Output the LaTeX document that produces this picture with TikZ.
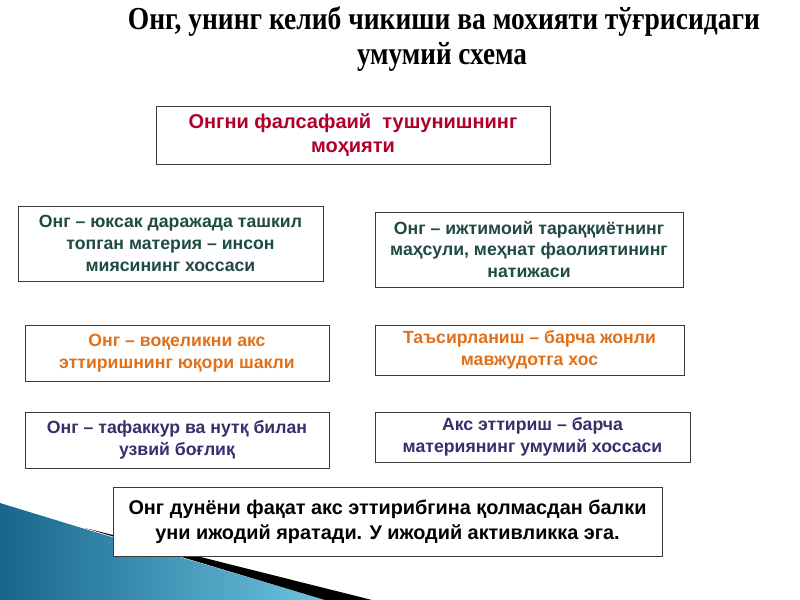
\documentclass[tikz,border=0pt]{standalone}
\usepackage{fontspec}
\usepackage{graphicx}
\setmainfont{Liberation Serif}
\setsansfont{Liberation Sans}
\usetikzlibrary{shapes,positioning}
\definecolor{onred}{HTML}{B0002A}
\definecolor{onteal}{HTML}{1F4A45}
\definecolor{onorange}{HTML}{E0701A}
\definecolor{onpurple}{HTML}{3B2C6E}
\definecolor{framegray}{HTML}{3A3A3A}
\definecolor{seadeep}{HTML}{17668C}
\definecolor{sealight}{HTML}{6CC4DF}
\tikzstyle{block} = [draw=framegray, line width=0.75pt, fill=white,
    rectangle, align=center, inner sep=0pt,
    font=\sffamily\bfseries\fontsize{13.25}{16.25}\selectfont]
\tikzstyle{title} = [align=center, inner sep=0pt,
    font=\rmfamily\bfseries\fontsize{24}{26}\selectfont]

\begin{document}
\begin{tikzpicture}[x=0.75pt,y=-0.75pt]
    \useasboundingbox (0,0) rectangle (800,600);
    % The slide corner goes in first, the blocks lie over it
    \shade [left color=seadeep, right color=sealight]
        (0,503) -- (85,529) -- (325,600) -- (0,600) -- cycle;
    \fill [black] (85,528) -- (372,600) -- (325,600) -- cycle;

    % Heading in two lines
    \node [title] (head) at (444,21)
        {\resizebox{474pt}{\height}{Онг, унинг келиб чикиши ва мохияти тўғрисидаги}};
    \node [title] (headb) at (442,57)
        {\resizebox{127.5pt}{\height}{умумий схема}};

    % We place the blocks
    \node [block, minimum width=295.5pt, minimum height=43.5pt, text=onred,
        font=\sffamily\bfseries\fontsize{15}{18}\selectfont] (essence) at (353,135)
        {Онгни фалсафаий\ \ тушунишнинг\\ моҳияти};
    \node [block, minimum width=228.75pt, minimum height=56.25pt, text=onteal]
        (matter) at (170.5,243.5)
        {Онг – юксак даражада ташкил\\ топган материя – инсон\\ миясининг хоссаси};
    \node [block, minimum width=231pt, minimum height=56.25pt, text=onteal]
        (social) at (529,249.5)
        {Онг – ижтимоий тараққиётнинг\\ маҳсули, меҳнат фаолиятининг\\ натижаси};
    \node [block, minimum width=228pt, minimum height=42pt, text=onorange]
        (reflect) at (177,353)
        {Онг – воқеликни акс\\ эттиришнинг юқори шакли};
    \node [block, minimum width=231.75pt, minimum height=37.5pt, text=onorange]
        (interact) at (529.5,350)
        {Таъсирланиш – барча жонли\\ мавжудотга хос};
    \node [block, minimum width=228pt, minimum height=42pt, text=onpurple]
        (thought) at (177,440)
        {Онг – тафаккур ва нутқ билан\\ узвий боғлиқ};
    \node [block, minimum width=236.25pt, minimum height=37.5pt, text=onpurple]
        (property) at (532.5,437)
        {Акс эттириш – барча\\ материянинг умумий хоссаси};
    \node [block, minimum width=411.75pt, minimum height=51.75pt, text=black,
        font=\sffamily\bfseries\fontsize{14.9}{18.75}\selectfont] (creative) at (387.5,521.5)
        {Онг дунёни фақат акс эттирибгина қолмасдан балки\\ уни ижодий яратади. У ижодий активликка эга.};
\end{tikzpicture}
\end{document}
